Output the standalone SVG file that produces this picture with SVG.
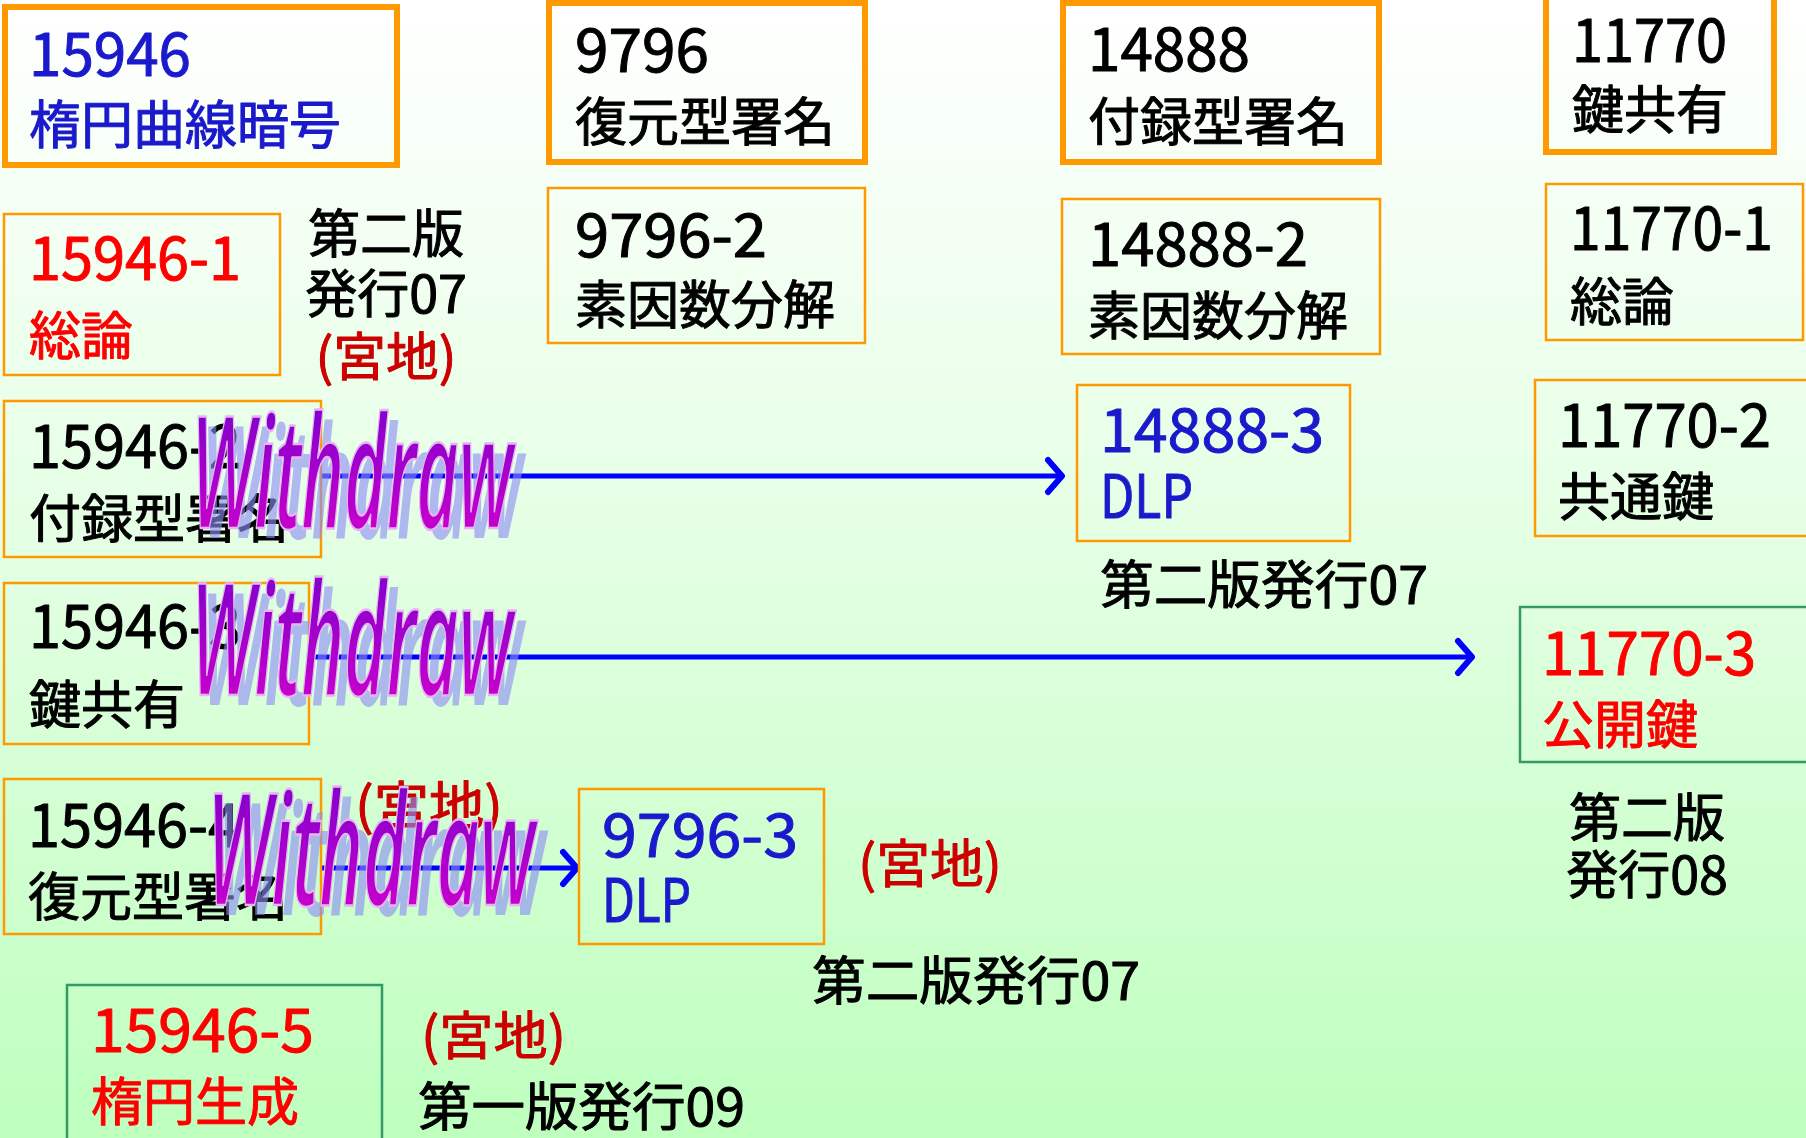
<svg xmlns="http://www.w3.org/2000/svg" width="1806" height="1138" viewBox="0 0 1806 1138">
<defs>
<linearGradient id="bg" x1="0" y1="0" x2="0" y2="1">
<stop offset="0" stop-color="#FFFFFF"/>
<stop offset="0.5" stop-color="#E2FFE2"/>
<stop offset="1" stop-color="#BEFFBE"/>
</linearGradient>
<linearGradient id="wd" x1="0" y1="0" x2="0" y2="1">
<stop offset="0" stop-color="#6A00CC"/>
<stop offset="1" stop-color="#DD00CC"/>
</linearGradient>
<marker id="chev" markerUnits="userSpaceOnUse" markerWidth="40" markerHeight="40" viewBox="-20 -20 40 40" refX="0" refY="0" orient="auto">
<path d="M -14 -16 L 0 0 L -14 16" fill="none" stroke="#0000FF" stroke-width="6" stroke-linecap="round" stroke-linejoin="round"/>
</marker>
<style>
.thick{fill:none;stroke:#FF9900;stroke-width:6}
.thin{fill:none;stroke:#FF9900;stroke-width:2.5}
.green{fill:none;stroke:#339966;stroke-width:2.5}
text{font-family:"Noto Sans CJK JP","Noto Sans",sans-serif;stroke-width:1;stroke-linejoin:round}
.n{font-size:60px}
.k{font-size:52px}
.blk{fill:#000000;stroke:#000000}
.blu{fill:#1A1ACC;stroke:#1A1ACC}
.red{fill:#FF0000;stroke:#FF0000}
.dred{fill:#CC0000;stroke:#CC0000}
.arr{stroke:#0000FF;stroke-width:5;fill:none;marker-end:url(#chev)}
.wd{font-family:"Open Sans","Liberation Sans",sans-serif;font-size:155px;font-style:italic;font-weight:600}
.wdm{fill:url(#wd);stroke:#E6B4F2;stroke-width:2.5}
.wds{fill:#8C8CF4;fill-opacity:0.62;stroke:none}
</style>
</defs>
<rect x="0" y="0" width="1806" height="1138" fill="url(#bg)"/>

<g id="n15946">
<rect class="thick" x="5" y="7" width="392" height="158"/>
<text class="n blu" x="29" y="76" textLength="162" lengthAdjust="spacingAndGlyphs">15946</text>
<text class="k blu" x="29" y="144">楕円曲線暗号</text>
</g>
<g id="n9796">
<rect class="thick" x="549" y="3" width="316" height="159"/>
<text class="n blk" x="575" y="72" textLength="134" lengthAdjust="spacingAndGlyphs">9796</text>
<text class="k blk" x="575" y="141">復元型署名</text>
</g>
<g id="n14888">
<rect class="thick" x="1063" y="3" width="316" height="159"/>
<text class="n blk" x="1088" y="71" textLength="162" lengthAdjust="spacingAndGlyphs">14888</text>
<text class="k blk" x="1088" y="141">付録型署名</text>
</g>
<g id="n11770">
<rect class="thick" x="1546" y="-5" width="228" height="157"/>
<text class="n blk" x="1572" y="62" textLength="155" lengthAdjust="spacingAndGlyphs">11770</text>
<text class="k blk" x="1572" y="129">鍵共有</text>
</g>

<g id="n15946-1">
<rect class="thin" x="4" y="214" width="276" height="161"/>
<text class="n red" x="29" y="280" textLength="212" lengthAdjust="spacingAndGlyphs">15946-1</text>
<text class="k red" x="29" y="355">総論</text>
</g>
<g id="note1">
<text class="k blk" x="386" y="253" text-anchor="middle">第二版</text>
<text class="k blk" x="386" y="313" text-anchor="middle">発行07</text>
<text class="k dred" x="386" y="376" text-anchor="middle" textLength="141" lengthAdjust="spacingAndGlyphs">(宮地)</text>
</g>
<g id="n9796-2">
<rect class="thin" x="548" y="188" width="317" height="155"/>
<text class="n blk" x="575" y="257" textLength="192" lengthAdjust="spacingAndGlyphs">9796-2</text>
<text class="k blk" x="575" y="324">素因数分解</text>
</g>
<g id="n14888-2">
<rect class="thin" x="1062" y="199" width="318" height="155"/>
<text class="n blk" x="1088" y="266" textLength="220" lengthAdjust="spacingAndGlyphs">14888-2</text>
<text class="k blk" x="1088" y="335">素因数分解</text>
</g>
<g id="n11770-1">
<rect class="thin" x="1546" y="184" width="257" height="156"/>
<text class="n blk" x="1570" y="250" textLength="203" lengthAdjust="spacingAndGlyphs">11770-1</text>
<text class="k blk" x="1570" y="321">総論</text>
</g>

<g id="connectors">
<line class="arr" x1="321" y1="476" x2="1062" y2="476"/>
<line class="arr" x1="309" y1="657" x2="1472" y2="657"/>
<line class="arr" x1="321" y1="868" x2="577" y2="868"/>
</g>

<g id="n15946-2">
<rect class="thin" x="4" y="401" width="317" height="156"/>
<text class="n blk" x="29" y="468" textLength="212" lengthAdjust="spacingAndGlyphs">15946-2</text>
<text class="k blk" x="29" y="538">付録型署名</text>
</g>
<g id="n14888-3">
<rect class="thin" x="1077" y="385" width="273" height="156"/>
<text class="n blu" x="1100" y="452" textLength="224" lengthAdjust="spacingAndGlyphs">14888-3</text>
<text class="n blu" x="1100" y="518" textLength="93" lengthAdjust="spacingAndGlyphs">DLP</text>
</g>
<text class="k blk" x="1100" y="604" textLength="328" lengthAdjust="spacingAndGlyphs">第二版発行07</text>
<g id="n11770-2">
<rect class="thin" x="1535" y="380" width="275" height="156"/>
<text class="n blk" x="1558" y="447" textLength="213" lengthAdjust="spacingAndGlyphs">11770-2</text>
<text class="k blk" x="1558" y="516">共通鍵</text>
</g>

<g id="n15946-3">
<rect class="thin" x="4" y="583" width="305" height="161"/>
<text class="n blk" x="29" y="648" textLength="212" lengthAdjust="spacingAndGlyphs">15946-3</text>
<text class="k blk" x="29" y="724">鍵共有</text>
</g>
<g id="n11770-3">
<rect class="green" x="1520" y="607" width="290" height="155"/>
<text class="n red" x="1542" y="675" textLength="214" lengthAdjust="spacingAndGlyphs">11770-3</text>
<text class="k red" x="1542" y="744">公開鍵</text>
</g>
<g id="note2">
<text class="k blk" x="1647" y="837" text-anchor="middle">第二版</text>
<text class="k blk" x="1647" y="894" text-anchor="middle">発行08</text>
</g>

<g id="n15946-4">
<rect class="thin" x="4" y="779" width="317" height="155"/>
<text class="n blk" x="28" y="847" textLength="212" lengthAdjust="spacingAndGlyphs">15946-4</text>
<text class="k blk" x="28" y="916">復元型署名</text>
</g>
<text class="k dred" x="355" y="825" textLength="148" lengthAdjust="spacingAndGlyphs">(宮地)</text>
<g id="n9796-3">
<rect class="thin" x="579" y="789" width="245" height="155"/>
<text class="n blu" x="602" y="857" textLength="196" lengthAdjust="spacingAndGlyphs">9796-3</text>
<text class="n blu" x="602" y="922" textLength="89" lengthAdjust="spacingAndGlyphs">DLP</text>
</g>
<text class="k dred" x="858" y="883" textLength="144" lengthAdjust="spacingAndGlyphs">(宮地)</text>
<text class="k blk" x="812" y="1000" textLength="328" lengthAdjust="spacingAndGlyphs">第二版発行07</text>

<g id="n15946-5">
<rect class="green" x="67" y="985" width="315" height="170"/>
<text class="n red" x="91" y="1052" textLength="223" lengthAdjust="spacingAndGlyphs">15946-5</text>
<text class="k red" x="91" y="1121">楕円生成</text>
</g>
<text class="k dred" x="421" y="1055" textLength="145" lengthAdjust="spacingAndGlyphs">(宮地)</text>
<text class="k blk" x="418" y="1126" textLength="327" lengthAdjust="spacingAndGlyphs">第一版発行09</text>

<g id="withdraw">
<text class="wd wds" x="201" y="538" textLength="322" lengthAdjust="spacingAndGlyphs">Withdraw</text>
<text class="wd wdm" x="191" y="528" textLength="322" lengthAdjust="spacingAndGlyphs">Withdraw</text>
<text class="wd wds" x="201" y="705" textLength="322" lengthAdjust="spacingAndGlyphs">Withdraw</text>
<text class="wd wdm" x="191" y="695" textLength="322" lengthAdjust="spacingAndGlyphs">Withdraw</text>
<text class="wd wds" x="217" y="915" textLength="328" lengthAdjust="spacingAndGlyphs">Withdraw</text>
<text class="wd wdm" x="207" y="905" textLength="328" lengthAdjust="spacingAndGlyphs">Withdraw</text>
</g>
</svg>
